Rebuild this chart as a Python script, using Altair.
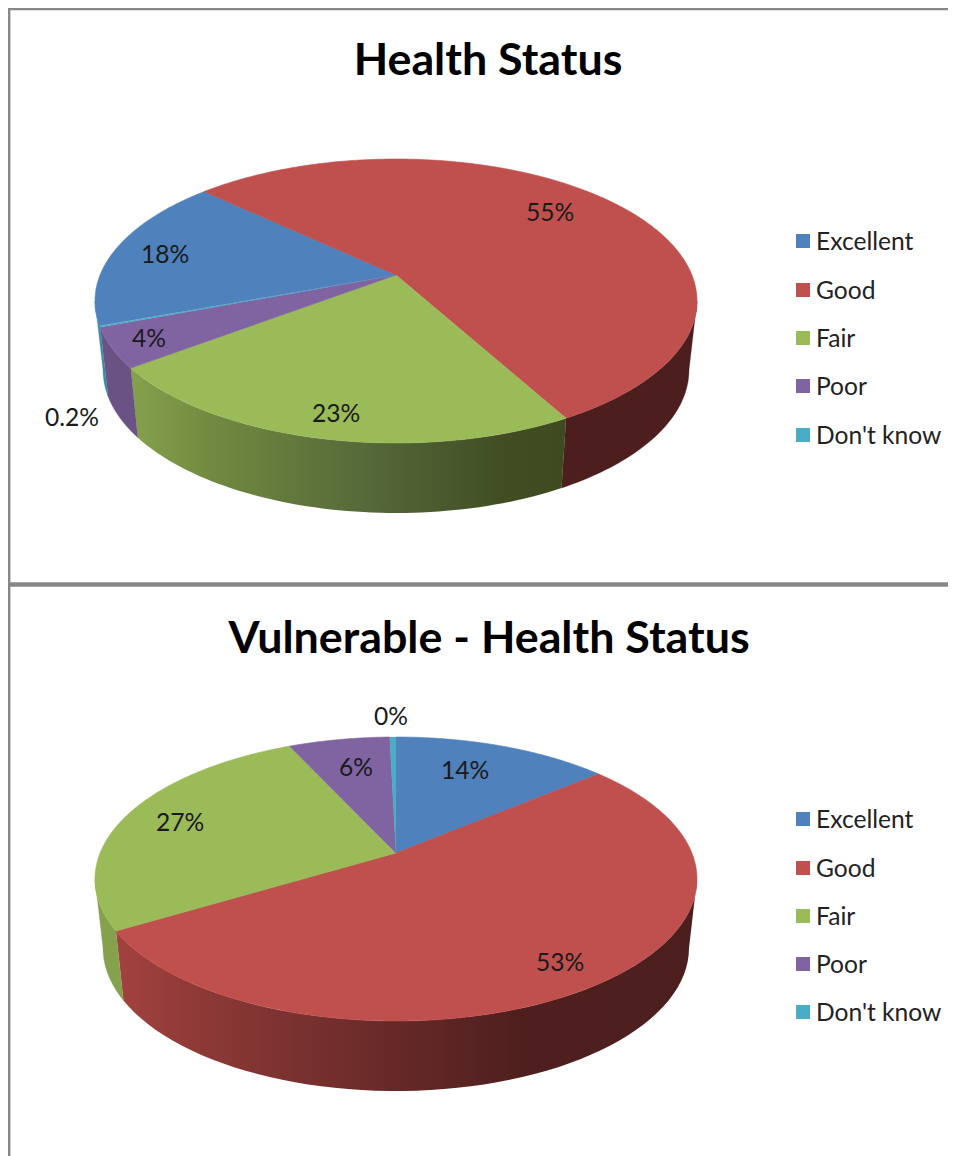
import numpy as np
import pandas as pd
import altair as alt

categories = ["Excellent", "Good", "Fair", "Poor", "Don't know"]
colors = ["#4f81bd", "#c0504d", "#9bbb59", "#8064a2", "#4bacc6"]

# shares printed on the two pies, and where they sit
labels_a = ["18%", "55%", "23%", "4%", "0.2%"]
labels_b = ["14%", "53%", "27%", "6%", "0%"]
label_x_a = [165, 550, 336, 149, 72]
label_y_a = [254, 212, 413, 338, 417]
label_x_b = [465, 560, 180, 356, 391]
label_y_b = [770, 962, 822, 767, 716]

# slice edges, degrees round the rim (screen clockwise, 0 = right)
edges_a = [170, 230.4, 415.6, 511.8, 529.3, 529.9]
edges_b = [270, 312.3, 518.5, 609.3, 628.8, 630]

titles = ["Health Status", "Vulnerable - Health Status"]
title_x = [488, 489]
title_y = [60, 638]

legend_y_a = [241, 290, 338, 386, 435]
legend_y_b = [819, 868, 916, 964, 1012]

SX = alt.Scale(domain=[8, 948], nice=False, zero=False)
SY = alt.Scale(domain=[1156, 8], nice=False, zero=False)
X = alt.X("x:Q", scale=SX, axis=None)
Y = alt.Y("y:Q", scale=SY, axis=None)


def rim(deg, cy, a=301.0, b=142.0, cx=396.0):
    t = np.radians(deg)
    return cx + a * np.cos(t), cy + b * np.sin(t)


def poly(xs, ys, fill, sw=0.6):
    df = pd.DataFrame({"x": xs, "y": ys, "i": range(len(xs))})
    kw = {"stroke": fill, "strokeWidth": sw} if isinstance(fill, str) else {"strokeWidth": 0}
    return alt.Chart(df).mark_line(interpolate="linear-closed", fill=fill, **kw).encode(
        x=X, y=Y, order="i:Q"
    )


def grad(stops):
    return alt.Gradient(
        gradient="linear", x1=0, x2=1, y1=0, y2=0,
        stops=[alt.GradientStop(offset=o, color=c) for o, c in stops],
    )


def wall(d0, d1, cy, fill):
    d = np.linspace(d0, d1, 60)
    x1, y1 = rim(d, cy)
    x2, y2 = rim(d[::-1], cy + 69, a=293.0, b=143.0)
    return poly(np.r_[x1, x2], np.r_[y1, y2], fill, sw=0.3)


def faces(edges, cy, apex_y):
    out = []
    for k in range(len(edges) - 1):
        d = np.linspace(edges[k], edges[k + 1], max(3, int(edges[k + 1] - edges[k]) * 2))
        x, y = rim(d, cy)
        out.append(poly(np.r_[396.0, x], np.r_[apex_y, y], colors[k], sw=0.6 if k < 4 else 0.2))
    return out


layers = []

# frame
frame = pd.DataFrame({
    "x": [8, 8, 9], "x2": [948, 948, 9],
    "y": [9, 584.5, 8], "y2": [9, 584.5, 1156],
    "w": [2.5, 4.5, 2.8],
})
layers.append(
    alt.Chart(frame).mark_rule(color="#878787").encode(
        x=X, x2="x2:Q", y=Y, y2="y2:Q",
        strokeWidth=alt.StrokeWidth("w:Q", scale=None),
    )
)

# side walls, top pie
layers.append(wall(0, 55.6, 301, "#4c1f1e"))
layers.append(wall(55.6, 151.8, 301, grad([(0, "#85a14d"), (0.2, "#70883f"), (0.55, "#55683a"), (0.85, "#414e24"), (1, "#3e4a20")])))
layers.append(wall(151.8, 169.3, 301, "#6b5285"))
layers.append(wall(169.3, 180, 301, "#3c8ba3"))

# side walls, bottom pie
layers.append(wall(0, 158.5, 879, grad([(0, "#a3423f"), (0.15, "#8c3936"), (0.4, "#6f2d2b"), (0.7, "#4e1f1e"), (1, "#4c1f1e")])))
layers.append(wall(158.5, 180, 879, "#85a14d"))

layers += faces(edges_a, 301, 275)
layers += faces(edges_b, 879, 853)

# legends
leg = pd.DataFrame({
    "cat": categories * 2,
    "x": [803] * 10,
    "tx": [816] * 10,
    "y": legend_y_a + legend_y_b,
})
layers.append(
    alt.Chart(leg).mark_square(size=196, opacity=1, filled=True).encode(
        x=X, y=Y,
        color=alt.Color("cat:N", scale=alt.Scale(domain=categories, range=colors), legend=None),
    )
)
layers.append(
    alt.Chart(leg).mark_text(align="left", baseline="middle", dy=1.5, font="Lato", fontSize=24.6, color="#222222").encode(
        x=alt.X("tx:Q", scale=SX, axis=None), y=Y, text="cat:N"
    )
)

# slice labels
lab = pd.DataFrame({
    "t": labels_a + labels_b,
    "x": label_x_a + label_x_b,
    "y": label_y_a + label_y_b,
})
layers.append(
    alt.Chart(lab).mark_text(align="center", baseline="middle", dy=1.5, font="Lato", fontSize=24.6, color="#1a1a1a").encode(
        x=X, y=Y, text="t:N"
    )
)

# titles
tt = pd.DataFrame({"t": titles, "x": title_x, "y": title_y})
layers.append(
    alt.Chart(tt).mark_text(align="center", baseline="middle", dy=2, font="Lato", fontSize=44.8, fontWeight="bold", color="#000000").encode(
        x=X, y=Y, text="t:N"
    )
)

chart = alt.layer(*layers).properties(
    width=940, height=1148, padding=0, autosize=alt.AutoSizeParams(type="none"),
).configure_view(stroke=None)

chart.save("out.html", embed_options={"renderer": "svg", "actions": False})
